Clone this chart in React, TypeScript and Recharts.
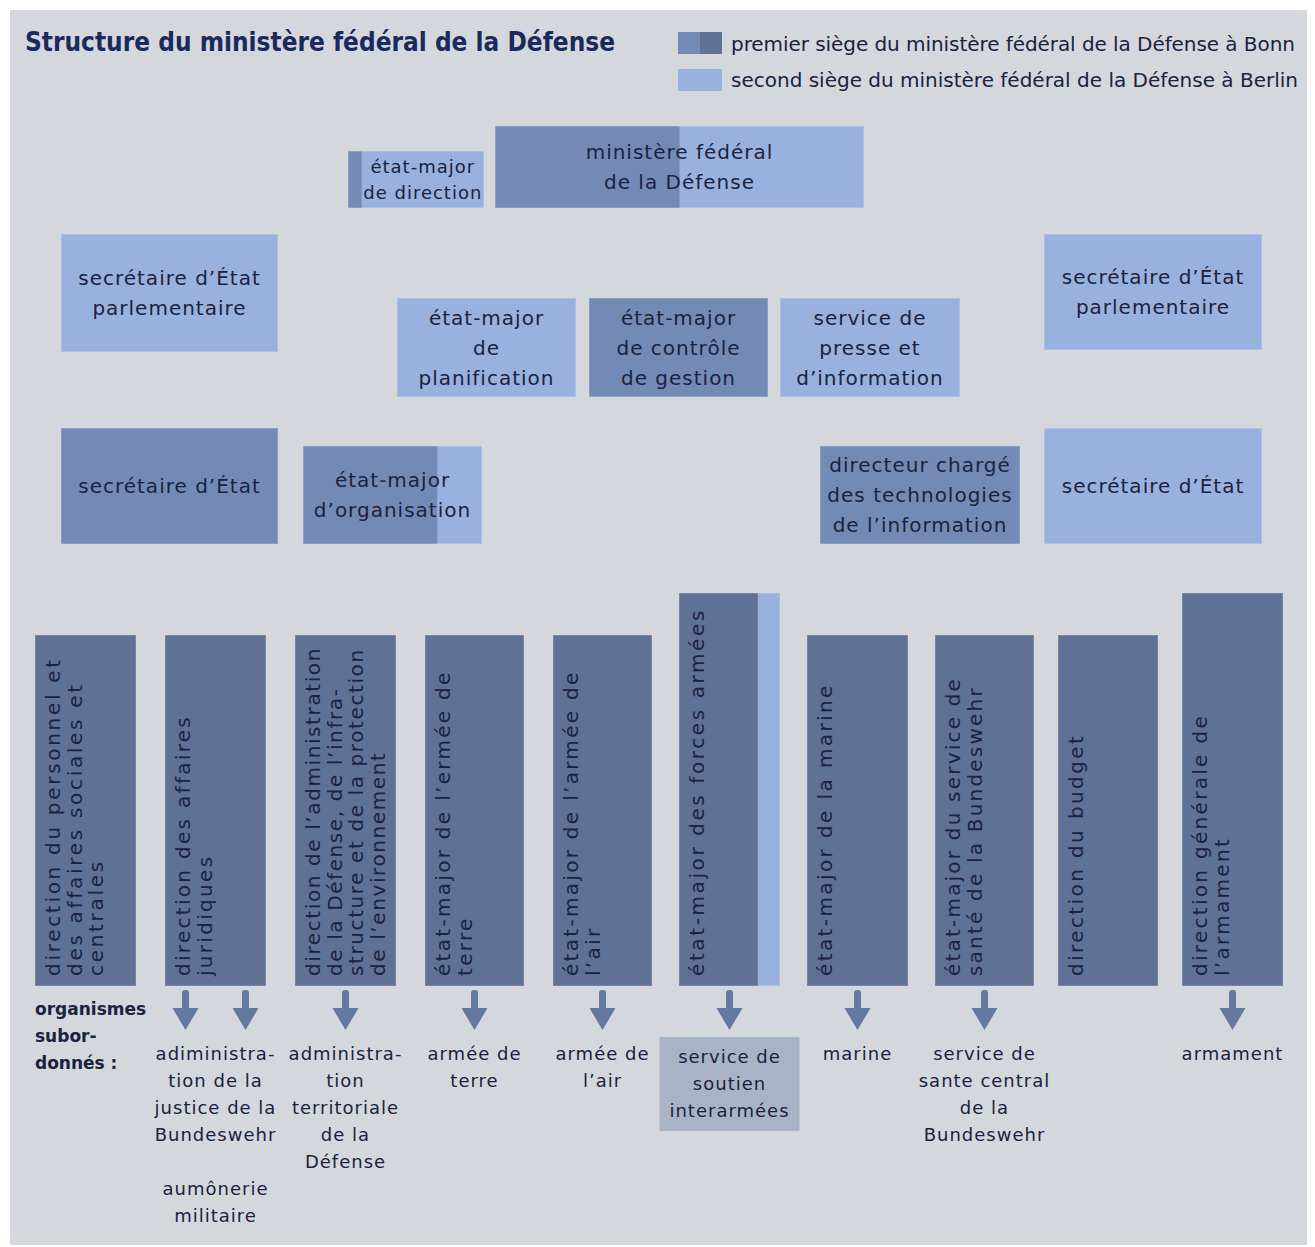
import React from "react";
import { ComposedChart, XAxis, YAxis, ReferenceArea, Scatter } from "recharts";

// ---- data ----
const title = "Structure du ministère fédéral de la Défense";
const seatNames = [
  "premier siège du ministère fédéral de la Défense à Bonn",
  "second siège du ministère fédéral de la Défense à Berlin",
];

const leadershipNames: string[][] = [
  ["état-major", "de direction"],
  ["ministère fédéral", "de la Défense"],
  ["secrétaire d’État", "parlementaire"],
  ["état-major", "de", "planification"],
  ["état-major", "de contrôle", "de gestion"],
  ["service de", "presse et", "d’information"],
  ["secrétaire d’État", "parlementaire"],
  ["secrétaire d’État"],
  ["état-major", "d’organisation"],
  ["directeur chargé", "des technologies", "de l’information"],
  ["secrétaire d’État"],
];
// share of each unit seated in Bonn (rest in Berlin)
const leadershipBonnShare = [0.1, 0.5, 0, 0, 1, 0, 0, 1, 0.75, 1, 0];

const directorateNames: string[][] = [
  ["direction du personnel et", "des affaires sociales et", "centrales"],
  ["direction des affaires", "juridiques"],
  [
    "direction de l’administration",
    "de la Défense, de l’infra-",
    "structure et de la protection",
    "de l’environnement",
  ],
  ["état-major de l’ermée de", "terre"],
  ["état-major de l’armée de", "l’air"],
  ["état-major des forces armées"],
  ["état-major de la marine"],
  ["état-major du service de", "santé de la Bundeswehr"],
  ["direction du budget"],
  ["direction générale de", "l’armament"],
];
const directorateBonnShare = [1, 1, 1, 1, 1, 0.78, 1, 1, 1, 1];

const subordinateHeading = ["organismes", "subor-", "donnés :"];
const subordinateArrows = [0, 2, 1, 1, 1, 1, 1, 1, 0, 1];
const subordinateNames: string[][] = [
  [],
  ["adiministra-", "tion de la", "justice de la", "Bundeswehr", "", "aumônerie", "militaire"],
  ["administra-", "tion", "territoriale", "de la", "Défense"],
  ["armée de", "terre"],
  ["armée de", "l’air"],
  ["service de", "soutien", "interarmées"],
  ["marine"],
  ["service de", "sante central", "de la", "Bundeswehr"],
  [],
  ["armament"],
];
const subordinateJoint = [false, false, false, false, false, true, false, false, false, false];

// ---- layout (chart units = px) ----
const W = 1315;
const H = 1247;
const leadershipBoxes = [
  [348, 151, 484, 208],
  [495, 126, 864, 208],
  [61, 234, 278, 352],
  [397, 298, 576, 397],
  [589, 298, 768, 397],
  [780, 298, 960, 397],
  [1044, 234, 1262, 350],
  [61, 428, 278, 544],
  [303, 446, 482, 544],
  [820, 446, 1020, 544],
  [1044, 428, 1262, 544],
];
const directorateSpans = [
  [35, 136], [165, 266], [295, 396], [425, 524], [553, 652],
  [679, 780], [807, 908], [935, 1034], [1058, 1158], [1182, 1283],
];
const directorateTops = [635, 635, 635, 635, 635, 593, 635, 635, 635, 593];
const directorateTracking = [2.7, 2.3, 1.6, 2.3, 2.3, 2.6, 2.4, 2.2, 2.4, 2.3];
const DIR_BOTTOM = 986;

// ---- style ----
const FONT = "'DejaVu Sans', sans-serif";
const PANEL = "#d4d7dc";
const BONN = "#738ab6";
const BONN_DARK = "#5f7195";
const BERLIN = "#99b1de";
const INK = "#1c2240";
const TITLE_INK = "#1b2a5c";
const ARROW = "#6479a0";
const SUB_BOX = "#a9b3c6";

const arrowPoints = directorateSpans.flatMap(([a, b], i) => {
  const c = (a + b) / 2;
  const n = subordinateArrows[i];
  if (n === 0) return [];
  if (n === 1) return [{ x: c, y: DIR_BOTTOM + 24 }];
  return [{ x: c - 30, y: DIR_BOTTOM + 24 }, { x: c + 30, y: DIR_BOTTOM + 24 }];
});

function ArrowShape(props: any) {
  const { cx, cy } = props;
  return (
    <g>
      <rect x={cx - 3.5} y={cy - 20} width={7} height={22} rx={3} fill={ARROW} />
      <polygon points={`${cx - 13},${cy - 2} ${cx + 13},${cy - 2} ${cx},${cy + 20}`} fill={ARROW} />
    </g>
  );
}

function TitleShape(props: any) {
  const { x, y, width, height } = props;
  return (
    <text
      x={x}
      y={y + height - 6}
      fontFamily={FONT}
      fontWeight="bold"
      fontSize={27}
      fill={TITLE_INK}
      textLength={width}
      lengthAdjust="spacingAndGlyphs"
    >
      {title}
    </text>
  );
}

function LegendShape(props: any) {
  const { x, y } = props;
  const swW = 44;
  const swH = 22;
  return (
    <g fontFamily={FONT} fontSize={20} fill={INK}>
      <rect x={x} y={y} width={swW / 2} height={swH} fill={BONN} />
      <rect x={x + swW / 2} y={y} width={swW / 2} height={swH} fill={BONN_DARK} />
      <text x={x + 53} y={y + 19} textLength={564} lengthAdjust="spacing">
        {seatNames[0]}
      </text>
      <rect x={x} y={y + 37} width={swW} height={swH} fill={BERLIN} />
      <text x={x + 53} y={y + 55} textLength={567} lengthAdjust="spacing">
        {seatNames[1]}
      </text>
    </g>
  );
}

function LeadershipShape(props: any) {
  const { x, y, width, height, index } = props;
  const share = leadershipBonnShare[index];
  const lines = leadershipNames[index];
  const bonnW = width * share;
  const textCx = share > 0 && share < 0.2 ? x + bonnW + (width - bonnW) / 2 : x + width / 2;
  const small = height < 70;
  const lh = small ? 26 : 30;
  const fs = small ? 18 : 20;
  const first = y + height / 2 - ((lines.length - 1) * lh) / 2;
  return (
    <g>
      {share < 1 && <rect x={x} y={y} width={width} height={height} fill={BERLIN} />}
      {share > 0 && <rect x={x} y={y} width={bonnW} height={height} fill={BONN} />}
      <rect
        x={x + 0.5}
        y={y + 0.5}
        width={width - 1}
        height={height - 1}
        fill="none"
        stroke="#ffffff"
        strokeOpacity={0.18}
      />
      <text textAnchor="middle" fontFamily={FONT} fontSize={fs} fill={INK} letterSpacing={1}>
        {lines.map((l, i) => (
          <tspan key={i} x={textCx} y={first + i * lh + fs * 0.36}>
            {l}
          </tspan>
        ))}
      </text>
    </g>
  );
}

function DirectorateShape(props: any) {
  const { x, y, width, height, index } = props;
  const share = directorateBonnShare[index];
  const lines = directorateNames[index];
  const startY = y + height - 10;
  return (
    <g>
      <rect x={x} y={y} width={width} height={height} fill={share < 1 ? BERLIN : BONN_DARK} />
      {share < 1 && <rect x={x} y={y} width={width * share} height={height} fill={BONN_DARK} />}
      <rect
        x={x + 0.5}
        y={y + 0.5}
        width={width - 1}
        height={height - 1}
        fill="none"
        stroke="#ffffff"
        strokeOpacity={0.15}
      />
      {lines.map((l, i) => {
        const bx = x + 25 + i * 21.5;
        return (
          <text
            key={i}
            x={bx}
            y={startY}
            transform={`rotate(-90, ${bx}, ${startY})`}
            fontFamily={FONT}
            fontSize={20}
            letterSpacing={directorateTracking[index]}
            fill={INK}
          >
            {l}
          </text>
        );
      })}
    </g>
  );
}

function SubordinateShape(props: any) {
  const { x, y, width, index } = props;
  const lines = subordinateNames[index];
  const cx = x + width / 2;
  const joint = subordinateJoint[index];
  const lh = 27;
  const base = y + 23 + (joint ? 3 : 0);
  return (
    <g>
      {joint && (
        <rect x={cx - 70} y={y} width={140} height={lines.length * lh + 13} fill={SUB_BOX} />
      )}
      <text textAnchor="middle" fontFamily={FONT} fontSize={18} fill={INK} letterSpacing={1}>
        {lines.map((l, i) => (
          <tspan key={i} x={cx} y={base + i * lh}>
            {l}
          </tspan>
        ))}
      </text>
    </g>
  );
}

function HeadingShape(props: any) {
  const { x, y } = props;
  return (
    <text fontFamily={FONT} fontWeight="bold" fontSize={17} fill={INK}>
      {subordinateHeading.map((l, i) => (
        <tspan key={i} x={x} y={y + 15 + i * 27}>
          {l}
        </tspan>
      ))}
    </text>
  );
}

export default function App() {
  return (
    <div style={{ position: "relative", width: W, height: H, background: "#ffffff" }}>
      <style>{"body{margin:0}"}</style>
      <div
        style={{ position: "absolute", left: 10, top: 10, width: 1297, height: 1235, background: PANEL }}
      />
      <div style={{ position: "absolute", left: 0, top: 0 }}>
        <ComposedChart width={W} height={H} data={arrowPoints} margin={{ top: 0, right: 0, bottom: 0, left: 0 }}>
          <XAxis type="number" dataKey="x" domain={[0, W]} hide />
          <YAxis type="number" dataKey="y" domain={[0, H]} reversed hide />
          <ReferenceArea x1={25} x2={615} y1={25} y2={57} shape={(p: any) => <TitleShape {...p} />} />
          <ReferenceArea x1={678} x2={1300} y1={32} y2={92} shape={(p: any) => <LegendShape {...p} />} />
          {leadershipBoxes.map(([x1, y1, x2, y2], i) => (
            <ReferenceArea
              key={`lead-${i}`}
              x1={x1}
              x2={x2}
              y1={y1}
              y2={y2}
              shape={(p: any) => <LeadershipShape {...p} index={i} />}
            />
          ))}
          {directorateSpans.map(([x1, x2], i) => (
            <ReferenceArea
              key={`dir-${i}`}
              x1={x1}
              x2={x2}
              y1={directorateTops[i]}
              y2={DIR_BOTTOM}
              shape={(p: any) => <DirectorateShape {...p} index={i} />}
            />
          ))}
          <ReferenceArea x1={35} x2={150} y1={1000} y2={1075} shape={(p: any) => <HeadingShape {...p} />} />
          {directorateSpans.map(([x1, x2], i) =>
            subordinateNames[i].length ? (
              <ReferenceArea
                key={`sub-${i}`}
                x1={x1}
                x2={x2}
                y1={1037}
                y2={1235}
                shape={(p: any) => <SubordinateShape {...p} index={i} />}
              />
            ) : null
          )}
          <Scatter dataKey="y" shape={(p: any) => <ArrowShape {...p} />} isAnimationActive={false} />
        </ComposedChart>
      </div>
    </div>
  );
}
